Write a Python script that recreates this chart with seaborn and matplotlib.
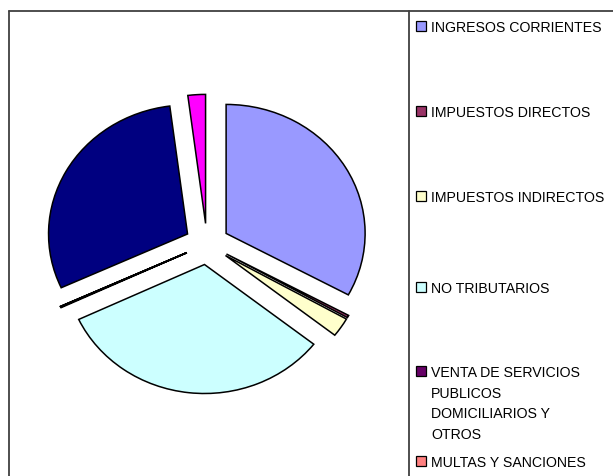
import matplotlib
matplotlib.use("Agg")
import matplotlib.pyplot as plt
import seaborn as sns
from matplotlib.patches import Rectangle
from matplotlib.lines import Line2D

# shares of each item (percent)
items = ["INGRESOS CORRIENTES", "IMPUESTOS DIRECTOS", "IMPUESTOS INDIRECTOS",
         "NO TRIBUTARIOS", "VENTA DE SERVICIOS\nPUBLICOS\nDOMICILIARIOS Y\nOTROS",
         "MULTAS Y SANCIONES", "ITEM 7", "ITEM 8", "ITEM 9", "ITEM 10"]
shares = [32.9, 0.3, 2.4, 32.4, 0.1, 0.02, 0.02, 0.02, 29.8, 2.04]
colors = ["#9999FF", "#993366", "#FFFFCC", "#CCFFFF", "#660066",
          "#FF8080", "#0066CC", "#CCCCFF", "#000080", "#FF00FF"]
legend_shown = 6  # the rest of the legend is cut off at the bottom

sns.set_style("white")
plt.rcParams["font.family"] = ["Liberation Sans", "DejaVu Sans"]

W, H = 613, 477
fig = plt.figure(figsize=(W / 100, H / 100), dpi=100)


def fx(x):
    return x / W


def fy(y):
    return 1 - y / H


# pie axes: center (207, 245) px, radii 139 x 129 px, limits +-1.5
cx, cy, rx, ry = 207, 245, 139, 129
ax = fig.add_axes([fx(cx - 1.5 * rx), fy(cy + 1.5 * ry), 3 * rx / W, 3 * ry / H])
ax.pie(shares, colors=colors, startangle=90, counterclock=False,
       explode=[0.16] * len(shares),
       wedgeprops=dict(edgecolor="black", linewidth=1.1))
ax.set_xlim(-1.5, 1.5)
ax.set_ylim(-1.5, 1.5)
ax.set_aspect("auto")
ax.axis("off")

# chart borders
bc = "#404040"
fig.add_artist(Line2D([fx(8.5), 1], [fy(11.5), fy(11.5)], color=bc, lw=1.3))
fig.add_artist(Line2D([fx(8.5), fx(8.5)], [fy(11.5), 0], color=bc, lw=1.3))
fig.add_artist(Line2D([fx(409), fx(409)], [fy(11.5), 0], color=bc, lw=1.3))

# legend
centers = [26.5, 112, 197, 287.5, 372, 462]
for name, col, yc in zip(items[:legend_shown], colors[:legend_shown], centers):
    fig.add_artist(Rectangle((fx(416), fy(yc + 5)), 10 / W, 10 / H,
                             facecolor=col, edgecolor="black", lw=0.9,
                             transform=fig.transFigure))
    for i, line in enumerate(name.split("\n")):
        fig.text(fx(431), fy(yc + 5.3 + i * 20.5), line, fontsize=10.2,
                 va="baseline", ha="left", color="black")

fig.savefig("out.png", dpi=100)
